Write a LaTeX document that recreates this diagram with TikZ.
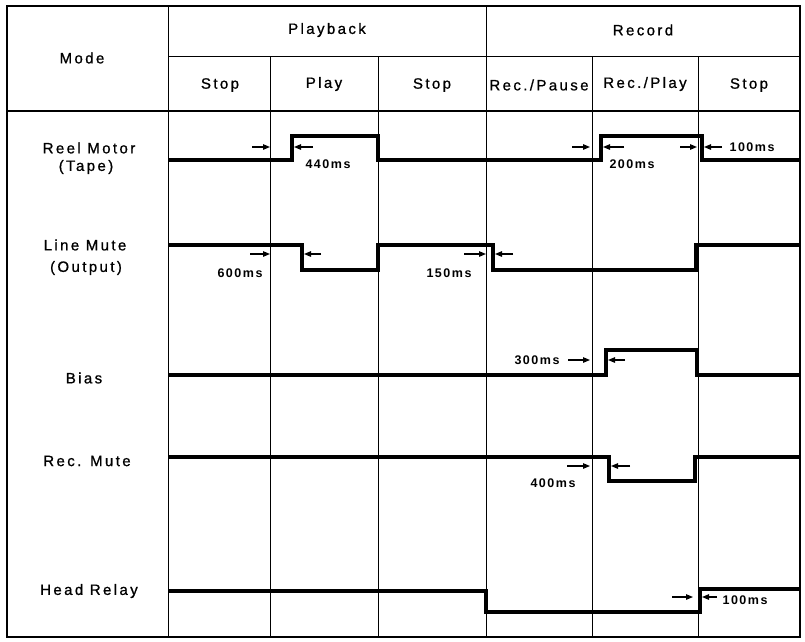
\documentclass[tikz,border=0pt]{standalone}
\usepackage{fontspec}
\setmainfont{Liberation Sans}[LetterSpace=16,FakeBold=0.9]
\newfontfamily\msfont{Liberation Sans Bold}[LetterSpace=12]
\usetikzlibrary{arrows.meta}
\tikzset{
  frame/.style={line width=1.4pt},
  gridline/.style={line width=0.9pt},
  trace/.style={line width=3.2pt, line join=miter},
  tick/.style={line width=1.2pt, -{Triangle[length=7pt,width=5.5pt]}},
  hdr/.style={font=\fontsize{15}{17}\selectfont, inner sep=0pt},
  lbl/.style={font=\fontsize{15}{17}\selectfont, inner sep=0pt},
  ms/.style={font=\msfont\fontsize{12.5}{14}\selectfont, inner sep=0pt},
}
\begin{document}
\begin{tikzpicture}[x=1pt,y=-1pt]
\useasboundingbox (0,0) rectangle (805,641);
% frame and grid
\draw[frame] (7,6) rectangle (800,637);
\draw[gridline] (168,6) -- (168,637);
\draw[gridline] (486,6) -- (486,637);
\draw[gridline] (168,56) -- (800,56);
\draw[frame] (7,111) -- (800,111);
\foreach \x in {270,378,592,698} \draw[gridline] (\x,56) -- (\x,637);
% headers
\node[hdr] (mode) at (82,58) {Mode};
\node[hdr] (pb) at (327,30) {Playback};
\node[hdr] (rec) at (643,30) {Record};
\node[hdr] (s1) at (220,85) {Stop};
\node[hdr] (s2) at (324,84) {Play};
\node[hdr] (s3) at (432,85) {Stop};
\node[hdr] (s4) at (539,85) {Rec./Pause};
\node[hdr] (s5) at (645,84) {Rec./Play};
\node[hdr] (s6) at (749,85) {Stop};
% row labels
\node[lbl] (l1a) at (89,148) {Reel Motor};
\node[lbl] (l1b) at (86,167) {(Tape)};
\node[lbl] (l2a) at (85,245) {Line Mute};
\node[lbl] (l2b) at (86,268) {(Output)};
\node[lbl] (l3) at (84,378) {Bias};
\node[lbl] (l4) at (87,461) {Rec. Mute};
\node[lbl] (l5) at (89,591) {Head Relay};
% traces
\draw[trace] (168,160) -- (292,160) -- (292,136) -- (378,136) -- (378,160) -- (601,160) -- (601,136) -- (702,136) -- (702,160) -- (800,160);
\draw[trace] (168,245) -- (302,245) -- (302,270) -- (378,270) -- (378,245) -- (493,245) -- (493,270) -- (696,270) -- (696,245) -- (800,245);
\draw[trace] (168,375) -- (606,375) -- (606,350) -- (697,350) -- (697,375) -- (800,375);
\draw[trace] (168,457) -- (609,457) -- (609,481) -- (695,481) -- (695,457) -- (800,457);
\draw[trace] (168,591) -- (486,591) -- (486,612) -- (700,612) -- (700,589) -- (800,589);
% timing arrows
\draw[tick] (252,147) -- (270,147);
\draw[tick] (313,147) -- (294,147);
\node[ms] (t440) at (328,164) {440ms};
\draw[tick] (572,147) -- (590,147);
\draw[tick] (624,147) -- (603,147);
\node[ms] (t200) at (632,164) {200ms};
\draw[tick] (680,147) -- (697,147);
\draw[tick] (722,147) -- (704,147);
\node[ms] (t100a) at (752,147) {100ms};
\draw[tick] (250,254) -- (270,254);
\node[ms] (t600) at (240,273) {600ms};
\draw[tick] (321,254) -- (304,254);
\draw[tick] (464,254) -- (486,254);
\node[ms] (t150) at (449,273) {150ms};
\draw[tick] (513,254) -- (495,254);
\node[ms] (t300) at (537,360) {300ms};
\draw[tick] (568,360) -- (590,360);
\draw[tick] (625,360) -- (608,360);
\draw[tick] (567,466) -- (590,466);
\node[ms] (t400) at (553,483) {400ms};
\draw[tick] (630,466) -- (611,466);
\draw[tick] (672,597) -- (693,597);
\draw[tick] (717,597) -- (702,597);
\node[ms] (t100b) at (745,600) {100ms};
\end{tikzpicture}
\end{document}
